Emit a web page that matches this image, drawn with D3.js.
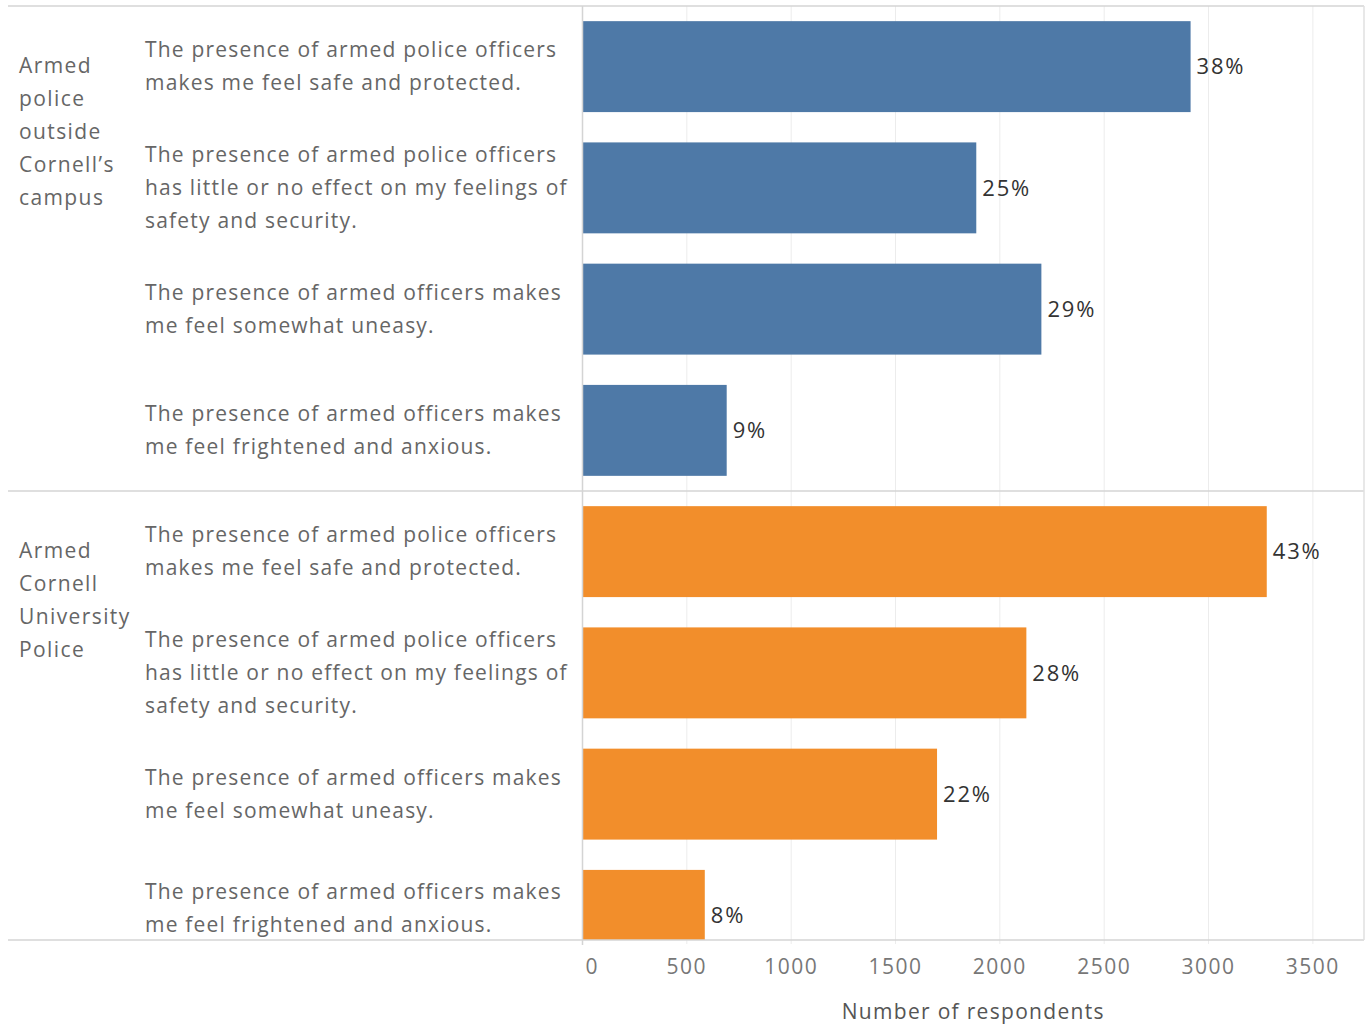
<!DOCTYPE html>
<html>
<head>
  <meta charset="utf-8">
  <title>armed police survey</title>
  <script src="https://cdn.jsdelivr.net/npm/d3@7"></script>
  <style>
    body { margin: 0; background: #fff; overflow: hidden; }
    svg text { font-family: "Open Sans", sans-serif; letter-spacing: 1.2px; }
    .grp { font-size: 21px; fill: #666; letter-spacing: 1.4px; }
    .stmt { font-size: 21px; fill: #666; }
    .pct { font-size: 22px; fill: #333; letter-spacing: 1.8px; }
    .tick { font-size: 21px; fill: #777; letter-spacing: 1.5px; }
    .title { font-size: 21px; fill: #555; letter-spacing: 1.3px; }
  </style>
</head>
<body>
<svg id="chart" width="1370" height="1028"></svg>
<script>
// groups (left column) and statements (middle column)
var groups = ["Armed\npolice\noutside\nCornell\u2019s\ncampus", "Armed\nCornell\nUniversity\nPolice"];
var statements = [
  "The presence of armed police officers\nmakes me feel safe and protected.",
  "The presence of armed police officers\nhas little or no effect on my feelings of\nsafety and security.",
  "The presence of armed officers makes\nme feel somewhat uneasy.",
  "The presence of armed officers makes\nme feel frightened and anxious."
];
var colors = ["#4e79a7", "#f28e2b"];
// number of respondents, per group
var outsideValues = [2914, 1887, 2199, 691];
var cornellValues = [3279, 2127, 1699, 586];
var outsidePct = ["38%", "25%", "29%", "9%"];
var cornellPct = ["43%", "28%", "22%", "8%"];
var xTicks = [0, 500, 1000, 1500, 2000, 2500, 3000, 3500];

var rows = [];
[outsideValues, cornellValues].forEach(function(vals, g) {
  vals.forEach(function(v, i) {
    rows.push({g: g, i: i, key: g + "-" + i, value: v,
               pct: (g == 0 ? outsidePct : cornellPct)[i]});
  });
});

var svg = d3.select("#chart");
var padL = 8, padR = 1364, topY = 6, bottomY = 940;
var x0 = 582.5;

var x = d3.scaleLinear().domain([0, 3745]).range([x0, padR]);
var y = d3.scaleBand().domain(rows.map(function(d) { return d.key; }))
    .range([topY, topY + 8 * 121.25]).paddingInner(0.25).paddingOuter(0.125);
var step = y.step();

svg.append("clipPath").attr("id", "clip")
  .append("rect").attr("x", 0).attr("y", topY).attr("width", 1370).attr("height", bottomY - topY);

// gridlines
svg.append("g").selectAll("line").data(xTicks.slice(1)).enter().append("line")
  .attr("x1", function(d) { return x(d); }).attr("x2", function(d) { return x(d); })
  .attr("y1", topY).attr("y2", bottomY + 4)
  .attr("stroke", "#ececec").attr("stroke-width", 1);

// bars
var plot = svg.append("g").attr("clip-path", "url(#clip)");
plot.selectAll("rect").data(rows).enter().append("rect")
  .attr("x", x(0))
  .attr("y", function(d) { return y(d.key); })
  .attr("width", function(d) { return x(d.value) - x(0); })
  .attr("height", y.bandwidth())
  .attr("fill", function(d) { return colors[d.g]; });

plot.selectAll("text").data(rows).enter().append("text")
  .attr("class", "pct")
  .attr("x", function(d) { return x(d.value) + 6; })
  .attr("y", function(d) { return y(d.key) + y.bandwidth() / 2; })
  .attr("dy", "0.35em")
  .text(function(d) { return d.pct; });

// frame lines
var frame = svg.append("g").attr("stroke", "#d4d4d4").attr("stroke-width", 1.5);
[topY, y(rows[4].key) - step * 0.125, bottomY].forEach(function(yy) {
  frame.append("line").attr("x1", padL).attr("x2", padR).attr("y1", yy).attr("y2", yy);
});
frame.append("line").attr("x1", x0).attr("x2", x0).attr("y1", topY).attr("y2", bottomY + 5);
frame.append("line").attr("x1", padR).attr("x2", padR).attr("y1", topY).attr("y2", bottomY)
  .attr("stroke", "#e0e0e0");

// statement labels
var lineH = 33;
rows.forEach(function(d) {
  var lines = statements[d.i].split("\n");
  var rowTop = y(d.key) - step * 0.125;
  var cy = Math.min(rowTop + step / 2, bottomY - 32);
  var t = svg.append("text").attr("class", "stmt").attr("x", 145);
  lines.forEach(function(l, k) {
    t.append("tspan").attr("x", 145)
      .attr("y", cy + (k - (lines.length - 1) / 2) * lineH)
      .attr("dy", "0.35em").text(l);
  });
});

// group labels
groups.forEach(function(gl, g) {
  var gTop = y(g + "-0") - step * 0.125;
  var t = svg.append("text").attr("class", "grp");
  gl.split("\n").forEach(function(l, k) {
    t.append("tspan").attr("x", 19).attr("y", gTop + 60 + k * lineH)
      .attr("dy", "0.35em").text(l);
  });
});

// x axis labels
svg.append("g").selectAll("text").data(xTicks).enter().append("text")
  .attr("class", "tick")
  .attr("x", function(d) { return d == 0 ? x(d) + 3 : x(d); })
  .attr("y", 967).attr("dy", "0.35em")
  .attr("text-anchor", function(d) { return d == 0 ? "start" : "middle"; })
  .text(function(d) { return d; });

svg.append("text").attr("class", "title")
  .attr("x", (x0 + padR) / 2).attr("y", 1012).attr("dy", "0.35em")
  .attr("text-anchor", "middle").text("Number of respondents");
</script>
</body>
</html>
